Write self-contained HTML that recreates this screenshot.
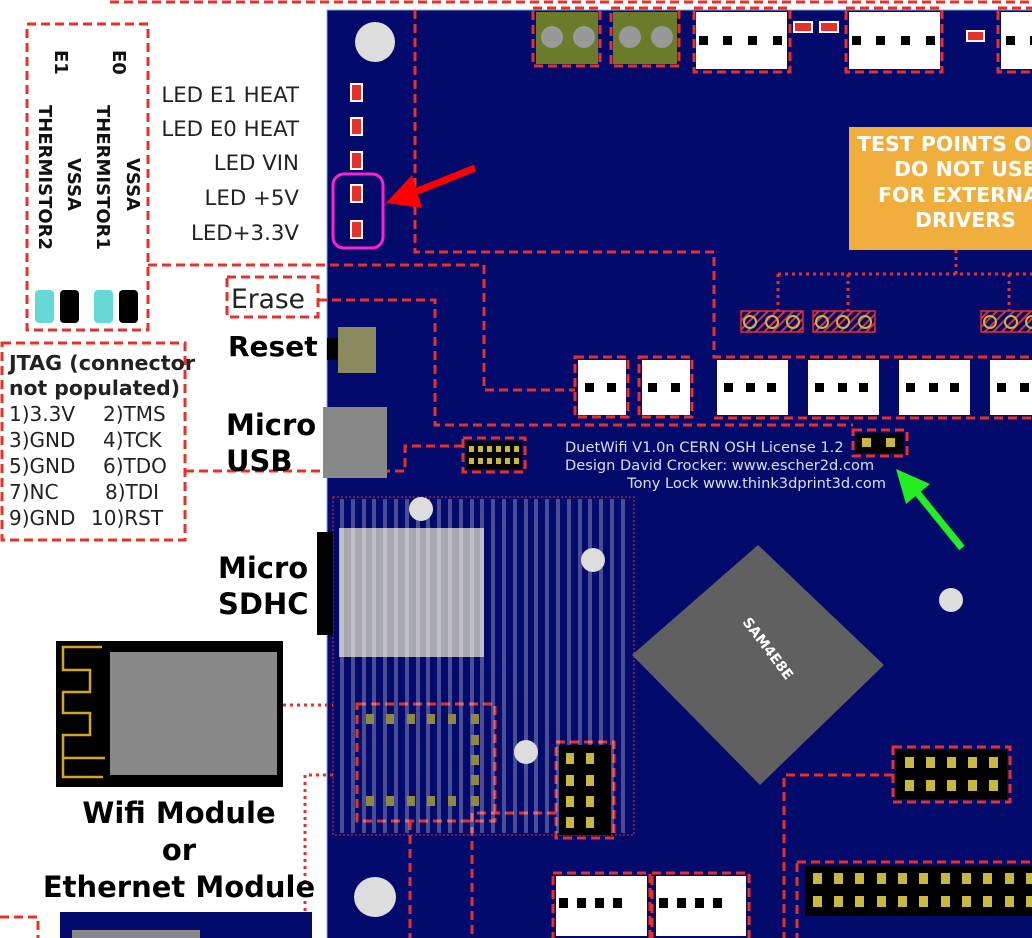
<!DOCTYPE html>
<html><head><meta charset="utf-8"><style>
html,body{margin:0;padding:0;background:#fff;}
svg{display:block;font-family:"DejaVu Sans","Liberation Sans",sans-serif;}
</style></head><body>
<svg width="1032" height="938" viewBox="0 0 1032 938" xmlns="http://www.w3.org/2000/svg">
<defs>
<pattern id="hatch" width="6" height="6" patternUnits="userSpaceOnUse" patternTransform="rotate(45)">
<rect width="6" height="6" fill="#02086b"/><rect width="2" height="6" fill="#d33"/></pattern>
</defs>
<rect width="1032" height="938" fill="#fff"/>
<rect x="327" y="10" width="720" height="940" fill="#020a6b" stroke="#8fa0d8" stroke-width="1"/>
<g fill="none" stroke="#e8302a" stroke-width="3" stroke-dasharray="9,5">
<line x1="110" y1="2" x2="1032" y2="2"/>
<polyline points="415,10 415,252 714,252 714,357 1032,357"/>
<polyline points="148,265 484,265 484,390 575,390"/>
<polyline points="318,300 435,300 435,425 853,425"/>
<polyline points="185,471 405,471 405,446 462,446"/>
<line x1="714" y1="418" x2="1032" y2="418"/>
<polyline points="893,775 784,775 784,938"/>
<line x1="410" y1="821" x2="410" y2="938"/>
<polyline points="556,813 472,813 472,938"/>
<polyline points="0,917 38,917 38,938"/>
<rect x="27" y="24" width="121" height="306"/>
<rect x="227" y="277" width="91" height="40"/>
<rect x="2" y="343" width="183" height="197"/>
<rect x="463" y="438" width="62" height="34"/>
<rect x="853" y="430" width="54" height="26"/>
<rect x="357" y="704" width="138" height="117"/>
<rect x="556" y="742" width="58" height="96"/>
<rect x="893" y="747" width="117" height="55"/>
<rect x="797" y="862" width="240" height="80"/>
<rect x="533" y="8" width="67" height="58"/>
<rect x="611" y="8" width="68" height="58"/>
<rect x="694" y="8" width="96" height="64"/>
<rect x="846" y="8" width="96" height="64"/>
<rect x="998" y="8" width="40" height="64"/>
<rect x="575" y="357" width="53" height="60"/>
<rect x="639" y="357" width="53" height="60"/>
<rect x="553" y="873" width="97" height="70"/>
<rect x="652" y="873" width="97" height="70"/>
</g>
<g font-weight="bold" font-size="18" fill="#111">
<text transform="translate(55,50) rotate(90)">E1</text>
<text transform="translate(113,50) rotate(90)">E0</text>
<text transform="translate(39,105) rotate(90)">THERMISTOR2</text>
<text transform="translate(68,158) rotate(90)">VSSA</text>
<text transform="translate(97,105) rotate(90)">THERMISTOR1</text>
<text transform="translate(127,158) rotate(90)">VSSA</text>
</g>
<rect x="35" y="290" width="19" height="33" rx="4" fill="#66d9d6"/>
<rect x="60" y="290" width="19" height="33" rx="4" fill="#000"/>
<rect x="94" y="290" width="19" height="33" rx="4" fill="#66d9d6"/>
<rect x="119" y="290" width="19" height="33" rx="4" fill="#000"/>
<g font-size="21.3" fill="#222" text-anchor="end">
<text x="299" y="102">LED E1 HEAT</text>
<text x="299" y="136">LED E0 HEAT</text>
<text x="299" y="170">LED VIN</text>
<text x="299" y="205">LED +5V</text>
<text x="299" y="240">LED+3.3V</text>
</g>
<g fill="#e8302a" stroke="#fff" stroke-width="2">
<rect x="351" y="84" width="11" height="17"/><rect x="351" y="118" width="11" height="17"/>
<rect x="351" y="152" width="11" height="17"/><rect x="351" y="185" width="11" height="17"/>
<rect x="351" y="221" width="11" height="17"/>
</g>
<rect x="333" y="174" width="50" height="74" rx="11" fill="none" stroke="#ff22cc" stroke-width="3"/>
<line x1="475" y1="168" x2="410" y2="194" stroke="#ff0000" stroke-width="7"/>
<polygon points="386,203 412,175 422,208" fill="#ff0000"/>
<circle cx="375" cy="42" r="20" fill="#ddd"/>
<text x="231" y="308" font-size="26.5" fill="#222">Erase</text>
<text x="228" y="356" font-size="28" font-weight="bold" fill="#000">Reset</text>
<rect x="327" y="338" width="11" height="22" fill="#000"/>
<rect x="338" y="327" width="38" height="46" fill="#8b8a5e"/>
<text x="226" y="435" font-size="29" font-weight="bold" fill="#000">Micro</text>
<text x="226" y="471" font-size="29" font-weight="bold" fill="#000">USB</text>
<rect x="323" y="407" width="64" height="71" fill="#888"/>
<g font-size="20" fill="#222">
<text x="9" y="370" font-weight="bold" textLength="186" lengthAdjust="spacingAndGlyphs">JTAG (connector</text>
<text x="9" y="395" font-weight="bold" textLength="171" lengthAdjust="spacingAndGlyphs">not populated)</text>
<text x="9" y="421">1)3.3V</text><text x="103" y="421">2)TMS</text>
<text x="9" y="447">3)GND</text><text x="103" y="447">4)TCK</text>
<text x="9" y="473">5)GND</text><text x="103" y="473">6)TDO</text>
<text x="9" y="499">7)NC</text><text x="105" y="499">8)TDI</text>
<text x="9" y="525">9)GND</text><text x="91" y="525">10)RST</text>
</g>
<rect x="466" y="441" width="56" height="28" fill="#000"/>
<g fill="#c9b840">
<rect x="469" y="446" width="5" height="6"/><rect x="478" y="446" width="5" height="6"/><rect x="487" y="446" width="5" height="6"/><rect x="496" y="446" width="5" height="6"/><rect x="505" y="446" width="5" height="6"/><rect x="514" y="446" width="5" height="6"/>
<rect x="469" y="458" width="5" height="6"/><rect x="478" y="458" width="5" height="6"/><rect x="487" y="458" width="5" height="6"/><rect x="496" y="458" width="5" height="6"/><rect x="505" y="458" width="5" height="6"/><rect x="514" y="458" width="5" height="6"/>
</g>
<rect x="536" y="12" width="62" height="52" fill="#6b7b2a"/><circle cx="552" cy="37" r="11" fill="#999"/><circle cx="584" cy="37" r="11" fill="#999"/>
<rect x="613" y="12" width="64" height="52" fill="#6b7b2a"/><circle cx="630" cy="37" r="11" fill="#999"/><circle cx="662" cy="37" r="11" fill="#999"/>
<g fill="#fff"><rect x="696" y="12" width="91" height="57"/><rect x="849" y="12" width="91" height="57"/><rect x="1001" y="12" width="40" height="57"/></g>
<g fill="#000">
<rect x="699" y="36" width="9" height="9"/><rect x="723" y="36" width="9" height="9"/><rect x="748" y="36" width="9" height="9"/><rect x="773" y="36" width="9" height="9"/>
<rect x="852" y="36" width="9" height="9"/><rect x="876" y="36" width="9" height="9"/><rect x="901" y="36" width="9" height="9"/><rect x="926" y="36" width="9" height="9"/>
<rect x="1006" y="36" width="9" height="9"/><rect x="1030" y="36" width="9" height="9"/>
</g>
<g fill="#e8302a" stroke="#fff" stroke-width="2"><rect x="794" y="22" width="18" height="10"/><rect x="820" y="22" width="18" height="10"/><rect x="967" y="31" width="17" height="10"/></g>
<rect x="849" y="127" width="190" height="123" fill="#f0ae3c"/>
<g fill="#fff" font-weight="bold" font-size="20.5">
<text x="857" y="151">TEST POINTS O</text>
<text x="894" y="176">DO NOT USE</text>
<text x="878" y="202">FOR EXTERNA</text>
<text x="915" y="227">DRIVERS</text>
</g>
<g stroke="#e8302a" stroke-width="3" stroke-dasharray="3,4" fill="none">
<polyline points="956,250 956,274"/>
<line x1="778" y1="274" x2="1032" y2="274"/>
<line x1="778" y1="274" x2="778" y2="311"/><line x1="848" y1="274" x2="848" y2="311"/><line x1="1009" y1="274" x2="1009" y2="311"/>
<line x1="283" y1="705" x2="333" y2="705"/>
<polyline points="333,775 305,775 305,912"/>
</g>
<g stroke="#e8302a" stroke-width="1.5">
<rect x="741" y="311" width="62" height="21" fill="url(#hatch)"/><rect x="813" y="311" width="62" height="21" fill="url(#hatch)"/><rect x="981" y="311" width="60" height="21" fill="url(#hatch)"/>
</g>
<g fill="none" stroke="#c9b840" stroke-width="2">
<circle cx="750" cy="322" r="6"/><circle cx="772" cy="322" r="6"/><circle cx="793" cy="322" r="6"/>
<circle cx="822" cy="322" r="6"/><circle cx="843" cy="322" r="6"/><circle cx="865" cy="322" r="6"/>
<circle cx="990" cy="322" r="6"/><circle cx="1011" cy="322" r="6"/><circle cx="1032" cy="322" r="6"/>
</g>
<g fill="#fff"><rect x="578" y="360" width="48" height="55"/><rect x="642" y="360" width="48" height="55"/>
<rect x="717" y="360" width="71" height="55"/><rect x="808" y="360" width="71" height="55"/><rect x="899" y="360" width="71" height="55"/><rect x="990" y="360" width="50" height="55"/></g>
<g fill="#000">
<rect x="585" y="383" width="9" height="9"/><rect x="607" y="383" width="9" height="9"/>
<rect x="648" y="383" width="9" height="9"/><rect x="671" y="383" width="9" height="9"/>
<rect x="724" y="383" width="9" height="9"/><rect x="746" y="383" width="9" height="9"/><rect x="767" y="383" width="9" height="9"/>
<rect x="815" y="383" width="9" height="9"/><rect x="838" y="383" width="9" height="9"/><rect x="859" y="383" width="9" height="9"/>
<rect x="906" y="383" width="9" height="9"/><rect x="929" y="383" width="9" height="9"/><rect x="950" y="383" width="9" height="9"/>
<rect x="997" y="383" width="9" height="9"/><rect x="1020" y="383" width="9" height="9"/>
</g>
<g font-size="14.6" fill="#dde">
<text x="565" y="452">DuetWifi V1.0n CERN OSH License 1.2</text>
<text x="565" y="470">Design David Crocker: www.escher2d.com</text>
<text x="886" y="488" text-anchor="end">Tony Lock www.think3dprint3d.com</text>
</g>
<rect x="856" y="433" width="48" height="20" fill="#000"/>
<rect x="862" y="438" width="9" height="9" fill="#c9b840"/><rect x="886" y="438" width="9" height="9" fill="#c9b840"/>
<line x1="962" y1="548" x2="915" y2="490" stroke="#22ee22" stroke-width="7"/>
<polygon points="896,469 930,484 906,504" fill="#22ee22"/>
<rect x="333" y="497" width="301" height="338" fill="none" stroke="#e8302a" stroke-width="1" stroke-dasharray="2,2"/>
<rect x="339" y="528" width="145" height="129" fill="#a8a8b0"/>
<g fill="#fff" opacity="0.28">
<rect x="340" y="499" width="4" height="334"/><rect x="351" y="499" width="4" height="334"/><rect x="362" y="499" width="4" height="334"/><rect x="372" y="499" width="4" height="334"/><rect x="383" y="499" width="4" height="334"/><rect x="394" y="499" width="4" height="334"/><rect x="405" y="499" width="4" height="334"/><rect x="416" y="499" width="4" height="334"/><rect x="426" y="499" width="4" height="334"/><rect x="437" y="499" width="4" height="334"/><rect x="448" y="499" width="4" height="334"/><rect x="459" y="499" width="4" height="334"/><rect x="470" y="499" width="4" height="334"/><rect x="480" y="499" width="4" height="334"/><rect x="491" y="499" width="4" height="334"/><rect x="502" y="499" width="4" height="334"/><rect x="513" y="499" width="4" height="334"/><rect x="524" y="499" width="4" height="334"/><rect x="534" y="499" width="4" height="334"/><rect x="545" y="499" width="4" height="334"/><rect x="556" y="499" width="4" height="334"/><rect x="567" y="499" width="4" height="334"/><rect x="578" y="499" width="4" height="334"/><rect x="588" y="499" width="4" height="334"/><rect x="599" y="499" width="4" height="334"/><rect x="610" y="499" width="4" height="334"/><rect x="621" y="499" width="4" height="334"/>
</g>
<rect x="317" y="532" width="16" height="103" fill="#000"/>
<text x="218" y="578" font-size="29" font-weight="bold" fill="#000">Micro</text>
<text x="218" y="614" font-size="29" font-weight="bold" fill="#000">SDHC</text>
<circle cx="421" cy="509" r="12" fill="#ddd"/><circle cx="593" cy="560" r="12" fill="#ddd"/>
<circle cx="951" cy="600" r="12" fill="#ddd"/><circle cx="526" cy="752" r="12" fill="#ddd"/>
<ellipse cx="375" cy="897" rx="21" ry="20" fill="#ddd"/>
<g fill="#8f8840">
<rect x="366" y="714" width="8" height="10"/><rect x="386" y="714" width="8" height="10"/><rect x="407" y="714" width="8" height="10"/><rect x="427" y="714" width="8" height="10"/><rect x="448" y="714" width="8" height="10"/><rect x="471" y="714" width="8" height="10"/>
<rect x="366" y="796" width="8" height="10"/><rect x="386" y="796" width="8" height="10"/><rect x="407" y="796" width="8" height="10"/><rect x="427" y="796" width="8" height="10"/><rect x="448" y="796" width="8" height="10"/><rect x="471" y="796" width="8" height="10"/>
<rect x="471" y="735" width="8" height="10"/><rect x="471" y="755" width="8" height="10"/><rect x="471" y="775" width="8" height="10"/>
</g>
<rect x="559" y="745" width="52" height="90" fill="#000"/>
<g fill="#c9b840">
<rect x="566" y="753" width="8" height="11"/><rect x="586" y="753" width="8" height="11"/>
<rect x="566" y="775" width="8" height="11"/><rect x="586" y="775" width="8" height="11"/>
<rect x="566" y="796" width="8" height="11"/><rect x="586" y="796" width="8" height="11"/>
<rect x="566" y="817" width="8" height="11"/><rect x="586" y="817" width="8" height="11"/>
</g>
<polygon points="758,545 884,665 760,785 632,655" fill="#606060"/>
<text x="0" y="0" font-size="14" font-weight="bold" fill="#fff" transform="translate(742,622) rotate(53)">SAM4E8E</text>
<rect x="896" y="750" width="111" height="49" fill="#000"/>
<g fill="#c9b840">
<rect x="905" y="757" width="9" height="11"/><rect x="926" y="757" width="9" height="11"/><rect x="947" y="757" width="9" height="11"/><rect x="968" y="757" width="9" height="11"/><rect x="989" y="757" width="9" height="11"/>
<rect x="905" y="780" width="9" height="11"/><rect x="926" y="780" width="9" height="11"/><rect x="947" y="780" width="9" height="11"/><rect x="968" y="780" width="9" height="11"/><rect x="989" y="780" width="9" height="11"/>
</g>
<rect x="805" y="866" width="230" height="50" fill="#000"/>
<g fill="#c9b840">
<rect x="813" y="873" width="9" height="11"/><rect x="834" y="873" width="9" height="11"/><rect x="855" y="873" width="9" height="11"/><rect x="877" y="873" width="9" height="11"/><rect x="898" y="873" width="9" height="11"/><rect x="919" y="873" width="9" height="11"/><rect x="941" y="873" width="9" height="11"/><rect x="962" y="873" width="9" height="11"/><rect x="983" y="873" width="9" height="11"/><rect x="1005" y="873" width="9" height="11"/><rect x="1026" y="873" width="9" height="11"/>
<rect x="813" y="896" width="9" height="11"/><rect x="834" y="896" width="9" height="11"/><rect x="855" y="896" width="9" height="11"/><rect x="877" y="896" width="9" height="11"/><rect x="898" y="896" width="9" height="11"/><rect x="919" y="896" width="9" height="11"/><rect x="941" y="896" width="9" height="11"/><rect x="962" y="896" width="9" height="11"/><rect x="983" y="896" width="9" height="11"/><rect x="1005" y="896" width="9" height="11"/><rect x="1026" y="896" width="9" height="11"/>
</g>
<g fill="#fff"><rect x="556" y="876" width="91" height="60"/><rect x="656" y="876" width="90" height="60"/></g>
<g fill="#000">
<rect x="559" y="898" width="9" height="10"/><rect x="577" y="898" width="9" height="10"/><rect x="595" y="898" width="9" height="10"/><rect x="613" y="898" width="9" height="10"/>
<rect x="659" y="898" width="9" height="10"/><rect x="677" y="898" width="9" height="10"/><rect x="695" y="898" width="9" height="10"/><rect x="713" y="898" width="9" height="10"/>
</g>
<rect x="56" y="641" width="227" height="146" fill="#000"/>
<rect x="110" y="652" width="167" height="123" fill="#888"/>
<polyline points="102,647 63,647 63,670 90,670 90,692 63,692 63,713 90,713 90,735 63,735 63,758 105,758" fill="none" stroke="#d4a520" stroke-width="2.5"/>
<polyline points="63,758 63,777 103,777" fill="none" stroke="#d4a520" stroke-width="2.5"/>
<g font-size="29" font-weight="bold" fill="#000" text-anchor="middle">
<text x="179" y="823">Wifi Module</text>
<text x="179" y="860">or</text>
<text x="179" y="897">Ethernet Module</text>
</g>
<rect x="60" y="912" width="252" height="30" fill="#020a6b"/>
<rect x="72" y="930" width="128" height="10" fill="#888"/>
</svg>
</body></html>
